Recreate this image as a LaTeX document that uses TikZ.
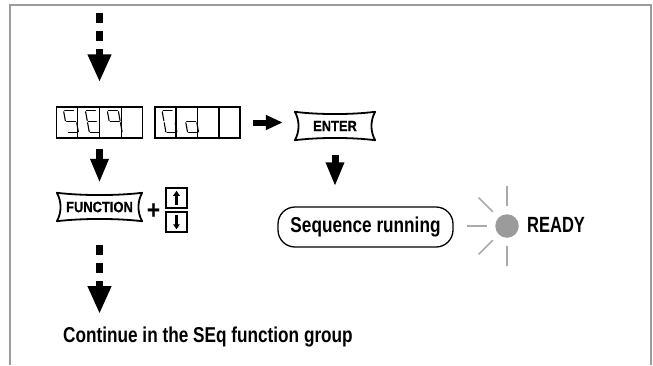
\documentclass[tikz,border=0pt]{standalone}
\usepackage{fontspec}
\newfontfamily\labf{Liberation Sans Bold}[FakeStretch=0.8]
\newfontfamily\keyf{Liberation Sans Bold}[FakeStretch=0.86,FakeBold=0.6]
\usetikzlibrary{arrows.meta,calc}
\definecolor{framegray}{RGB}{155,155,155}
\definecolor{ledgray}{RGB}{155,155,155}
\definecolor{raygray}{RGB}{170,170,170}
\tikzset{
  disp/.style={draw, line width=1.5pt, minimum height=31pt, inner sep=0pt},
  cellline/.style={line width=1.5pt},
  segline/.style={line width=1.1pt, line cap=round},
  keynode/.style={inner sep=0pt, font=\keyf\fontsize{15}{17}\selectfont},
  keyline/.style={line width=1.8pt, line join=round},
  akey/.style={draw, line width=1.5pt, minimum width=21pt, minimum height=20pt, inner sep=0pt},
  lab/.style={inner sep=0pt, font=\labf\fontsize{21.5}{24}\selectfont},
  fat/.style={line width=7pt, -{Triangle[length=24pt,width=17pt]}},
  rfat/.style={line width=6pt, -{Triangle[length=17pt,width=14pt]}},
  dfat/.style={line width=7pt, dash pattern=on 10pt off 8pt, -{Triangle[length=28pt,width=22pt]}},
  smallarr/.style={line width=2.2pt, -{Triangle[length=5pt,width=6.5pt]}},
  ray/.style={raygray, line width=1.5pt}
}
\newcommand\cushion[1]{%
 \draw[keyline] (#1.north west)
  .. controls ($(#1.north west)!0.3!(#1.north east)+(0,3)$) and ($(#1.north west)!0.7!(#1.north east)+(0,3)$) .. (#1.north east)
  .. controls ($(#1.north east)!0.3!(#1.south east)+(-5,0)$) and ($(#1.north east)!0.7!(#1.south east)+(-5,0)$) .. (#1.south east)
  .. controls ($(#1.south east)!0.3!(#1.south west)+(0,-3)$) and ($(#1.south east)!0.7!(#1.south west)+(0,-3)$) .. (#1.south west)
  .. controls ($(#1.south west)!0.3!(#1.north west)+(5,0)$) and ($(#1.south west)!0.7!(#1.north west)+(5,0)$) .. cycle;}
% segment digit: #1 = top-left of cell, #2 = list of x1/y1/x2/y2
\newcommand\digitsegs[2]{%
 \begin{scope}[shift={#1}, xslant=-0.18]
  \foreach \xa/\ya/\xb/\yb in {#2} {\draw[segline] (\xa+7,\ya+4.5) -- (\xb+7,\yb+4.5);}
 \end{scope}}
\begin{document}
\begin{tikzpicture}[x=1pt,y=-1pt]
\useasboundingbox (0,0) rectangle (653,365);
% frame
\draw[framegray, line width=1.6pt] (10,365) -- (10,5) -- (651,5) -- (651,365);

% displays
\node[disp, minimum width=86pt] (d1) at (99.5,122.5) {};
\node[disp, minimum width=85pt] (d2) at (197.5,122.5) {};
\foreach \i in {1,2,3} {
  \draw[cellline] ($(d1.north west)!\i/4!(d1.north east)$) -- ($(d1.south west)!\i/4!(d1.south east)$);
  \draw[cellline] ($(d2.north west)!\i/4!(d2.north east)$) -- ($(d2.south west)!\i/4!(d2.south east)$);
}
% 5
\digitsegs{($(d1.north west)!0/4!(d1.north east)$)}{1/0/10/0, 0/1/0/10, 1/11/10/11, 11/12/11/21, 1/22/10/22}
% E
\digitsegs{($(d1.north west)!1/4!(d1.north east)$)}{1/0/10/0, 0/1/0/10, 0/12/0/21, 1/11/9/11, 1/22/10/22}
% q
\digitsegs{($(d1.north west)!2/4!(d1.north east)$)}{1/0/10/0, 0/1/0/10, 11/1/11/10, 1/11/10/11, 11/12/11/21}
% G
\digitsegs{($(d2.north west)!0/4!(d2.north east)$)}{1/0/10/0, 0/1/0/10, 0/12/0/21, 1/22/10/22, 11/12/11/21}
% o
\digitsegs{($(d2.north west)!1/4!(d2.north east)$)}{1/11/10/11, 11/12/11/21, 1/22/10/22, 0/12/0/21}

% keys
\node[keynode, minimum width=80pt, minimum height=28pt] (enter) at (335,126) {ENTER};
\cushion{enter}
\node[keynode, minimum width=85pt, minimum height=28pt] (func) at (99.5,207) {FUNCTION};
\cushion{func}
\node[inner sep=0pt, font=\keyf\fontsize{26}{26}\selectfont] (plus) at (153.5,211) {+};
\node[akey] (up) at (176.5,198) {};
\node[akey] (dn) at (176.5,222) {};
\draw[smallarr] ($(up.south)+(0,-4)$) -- ($(up.north)+(0,3.5)$);
\draw[smallarr] ($(dn.north)+(0,4)$) -- ($(dn.south)+(0,-3.5)$);

% sequence running + led
\node[lab, draw, line width=1.3pt, rounded corners=17pt, minimum width=175pt, minimum height=40pt] (seq) at (365.5,227) {Sequence running};
\node[circle, fill=ledgray, minimum size=23.5pt, inner sep=0pt] (led) at (507,226) {};
\foreach \a in {90,135,180,225,270}
  \draw[ray] ($(led.center)+(\a:20)$) -- ($(led.center)+(\a:40)$);
\node[lab, anchor=west, font=\labf\addfontfeature{FakeStretch=0.75}\fontsize{22}{24}\selectfont] (ready) at (527,225) {READY};

% continue text
\node[lab, anchor=base west] (cont) at (63,342) {Continue in the SEq function group};
\coordinate (s1) at (99.5,13);
\coordinate (e2) at (99.5,314);

% arrows
\draw[dfat, shorten >=24pt] (s1) -- (d1.north);
\draw[fat, shorten <=10pt, shorten >=10pt] (d1.south) -- (func.north);
\draw[rfat, shorten <=12pt, shorten >=12pt] (d2.east) -- (d2.east -| enter.west);
\draw[fat, shorten <=15pt, shorten >=20pt] (enter.south) -- (enter.south |- seq.north);
\draw[dfat, shorten <=24pt] (func.south) -- (e2);
\end{tikzpicture}
\end{document}
